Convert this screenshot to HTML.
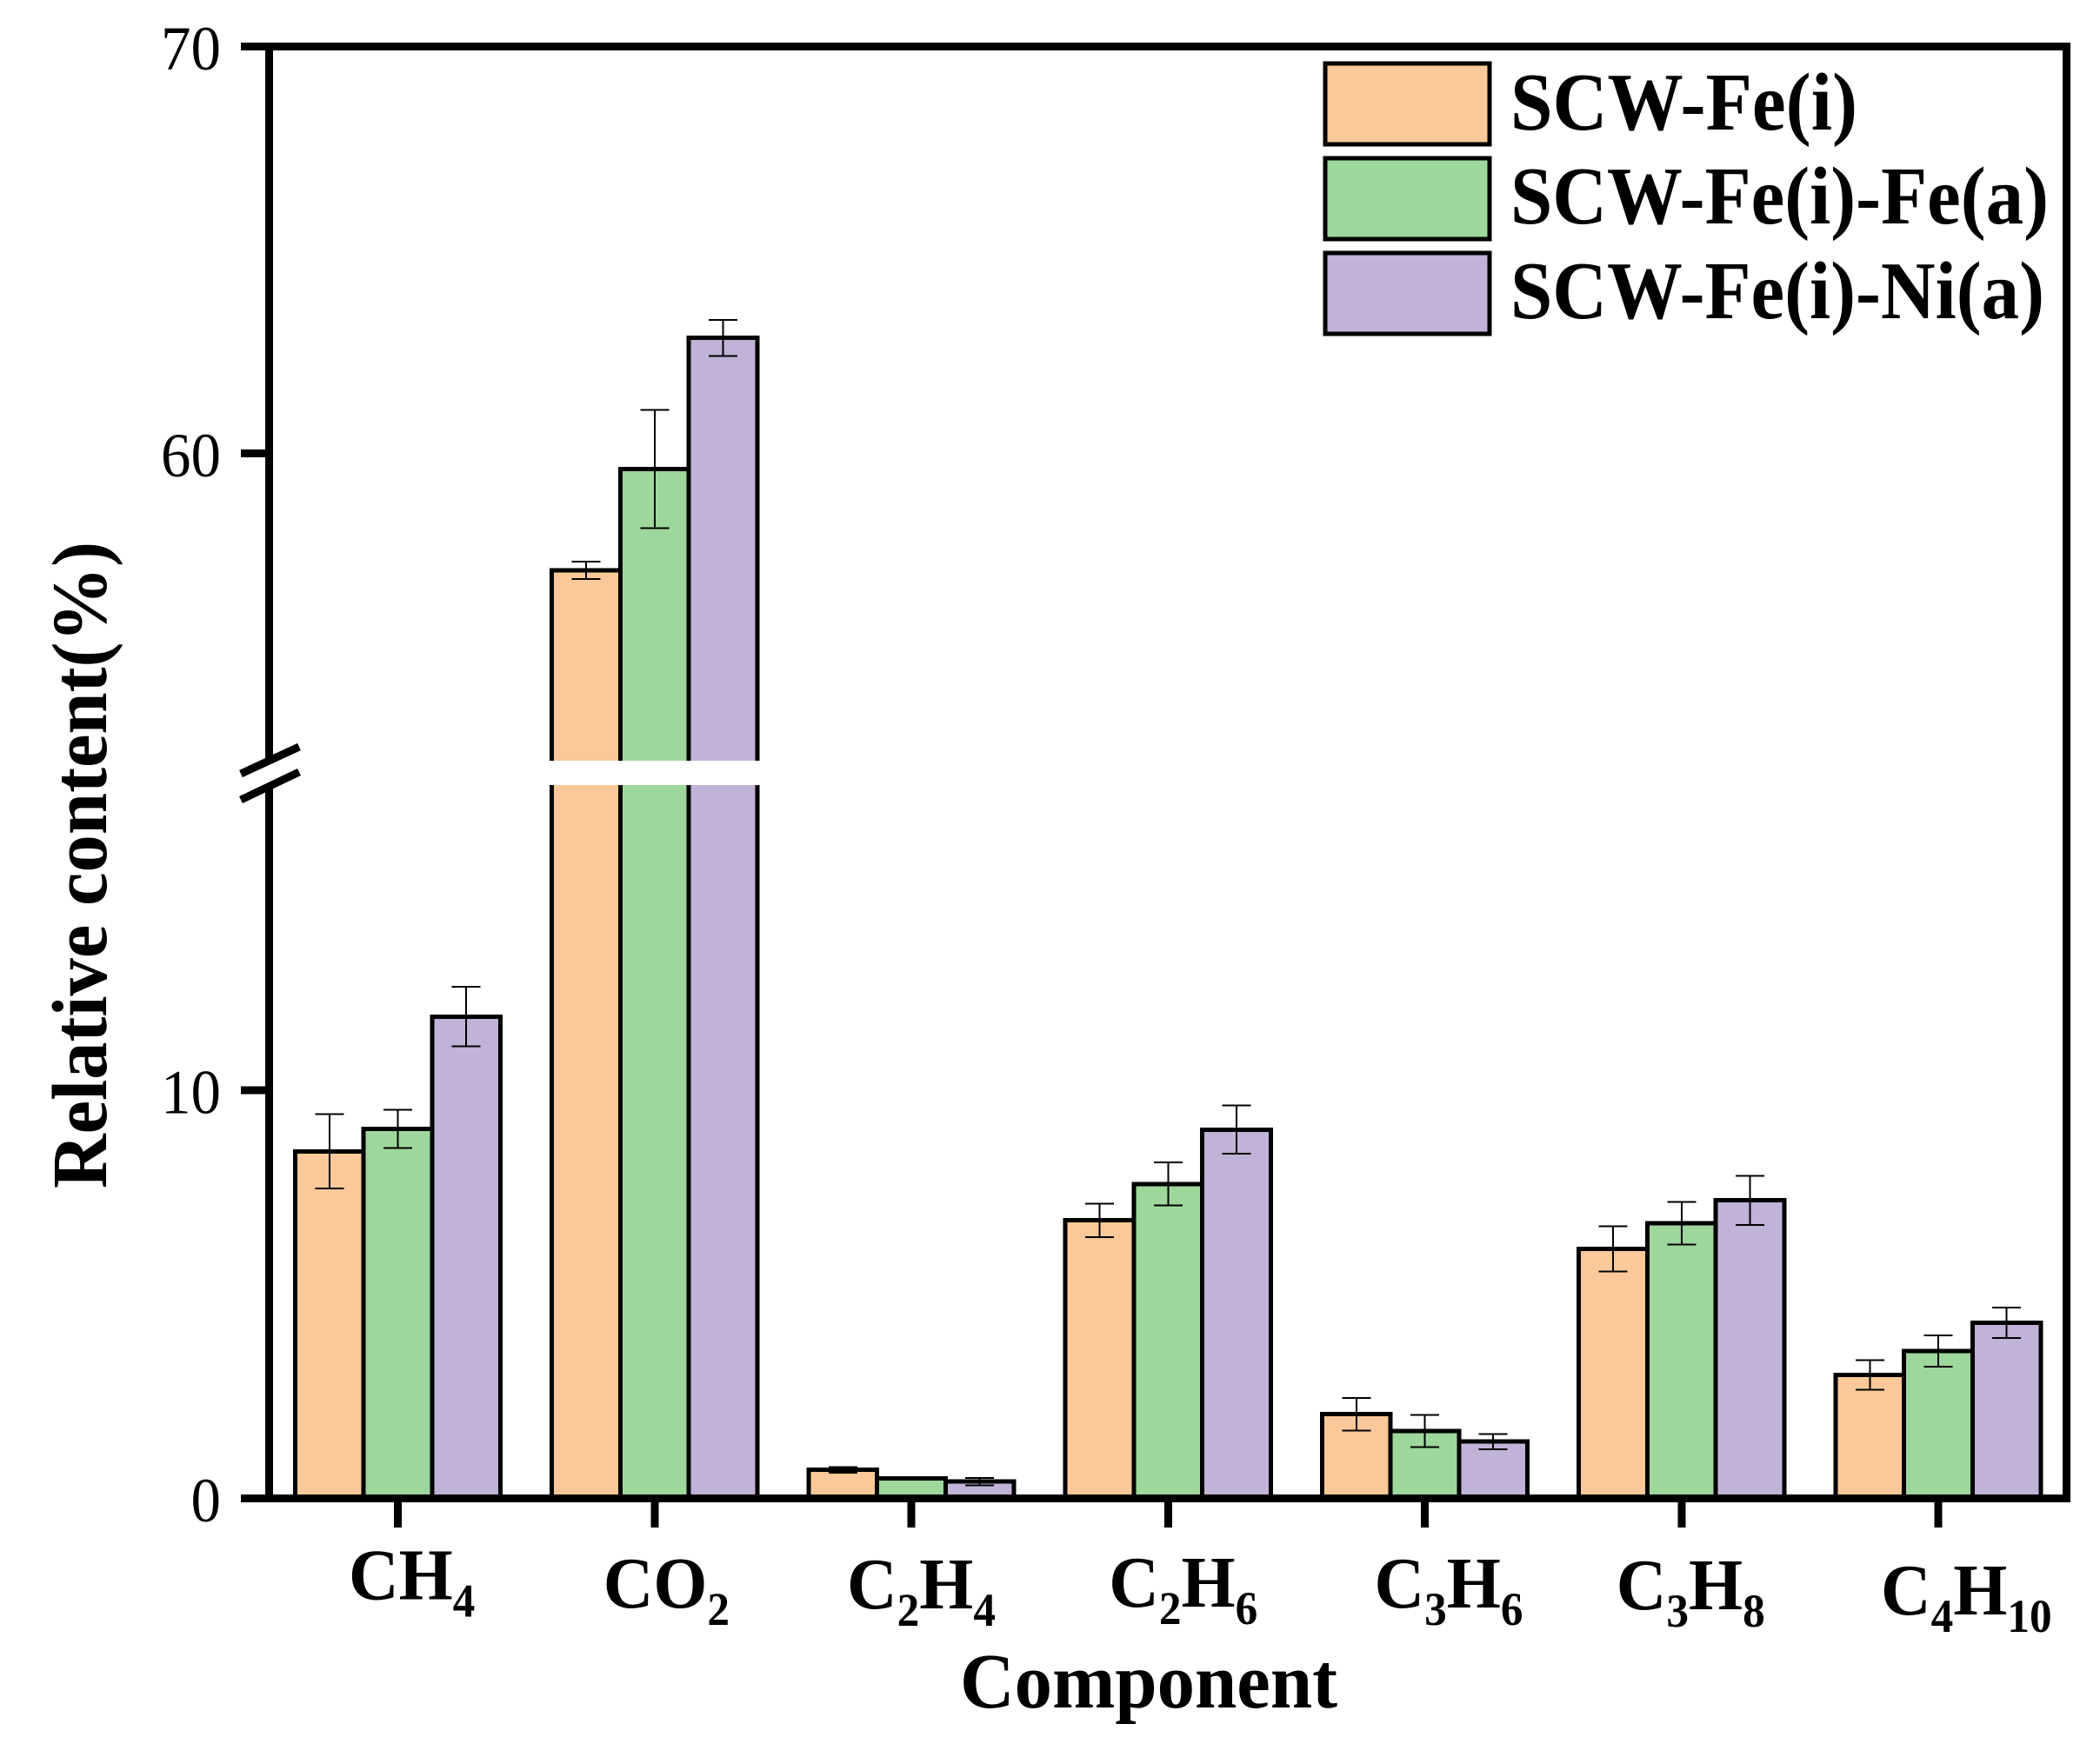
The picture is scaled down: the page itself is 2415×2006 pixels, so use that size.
<!DOCTYPE html>
<html lang="en">
<head>
<meta charset="utf-8">
<title>Relative content by gas component</title>
<style>
html,body{margin:0;padding:0;background:#fff;width:2415px;height:2006px;overflow:hidden}
svg{display:block}
text{fill:#000;font-family:"Liberation Serif","Times New Roman",serif}
.b{font-weight:bold}
</style>
</head>
<body>
<svg id="chart" xmlns="http://www.w3.org/2000/svg" width="2415" height="2006" viewBox="0 0 2415 2006">
  <rect x="0" y="0" width="2415" height="2006" fill="#fff"/>
  <g id="bars" shape-rendering="crispEdges"></g>
  <g id="errors" shape-rendering="crispEdges"></g>
  <g id="gaps" shape-rendering="crispEdges"></g>
  <g id="axes"></g>
  <g id="ylabels"></g>
  <g id="xlabels"></g>
  <text class="b" x="1104" y="1964" font-size="90" textLength="434" lengthAdjust="spacingAndGlyphs">Component</text>
  <text class="b" transform="translate(122 1367) rotate(-90)" font-size="90" textLength="744" lengthAdjust="spacingAndGlyphs">Relative content(%)</text>
  <g>
    <rect shape-rendering="crispEdges" x="1524" y="73" width="189" height="93" fill="#FBC999" stroke="#000" stroke-width="5"/>
    <text class="b" x="1737" y="149" font-size="94" textLength="399" lengthAdjust="spacingAndGlyphs">SCW-Fe(i)</text>
    <rect shape-rendering="crispEdges" x="1524" y="182" width="189" height="93" fill="#9ED79C" stroke="#000" stroke-width="5"/>
    <text class="b" x="1737" y="257" font-size="94" textLength="619" lengthAdjust="spacingAndGlyphs">SCW-Fe(i)-Fe(a)</text>
    <rect shape-rendering="crispEdges" x="1524" y="291" width="189" height="93" fill="#C1B3D7" stroke="#000" stroke-width="5"/>
    <text class="b" x="1737" y="366" font-size="94" textLength="614" lengthAdjust="spacingAndGlyphs">SCW-Fe(i)-Ni(a)</text>
  </g>
</svg>
<script>
const categories = ["CH4", "CO2", "C2H4", "C2H6", "C3H6", "C3H8", "C4H10"];
const seriesNames = ["SCW-Fe(i)", "SCW-Fe(i)-Fe(a)", "SCW-Fe(i)-Ni(a)"];
const valuesFeI = [8.5, 57.13, 0.70, 6.81, 2.06, 6.11, 3.02];
const valuesFeIFeA = [9.05, 59.62, 0.49, 7.70, 1.65, 6.74, 3.61];
const valuesFeINiA = [11.8, 62.84, 0.41, 9.03, 1.39, 7.30, 4.30];
const errorsFeI = [0.91, 0.21, 0.07, 0.41, 0.40, 0.55, 0.36];
const errorsFeIFeA = [0.47, 1.45, 0.01, 0.53, 0.39, 0.52, 0.38];
const errorsFeINiA = [0.73, 0.44, 0.09, 0.59, 0.19, 0.60, 0.37];
const yTickValues = [0, 10, 60, 70];
const yTickLabels = ["0", "10", "60", "70"];

const NS = "http://www.w3.org/2000/svg";
const breakLow = 17.5, breakHigh = 52.5;
const allValues = [valuesFeI, valuesFeIFeA, valuesFeINiA];
const allErrors = [errorsFeI, errorsFeIFeA, errorsFeINiA];
const fills = ["#FBC999", "#9ED79C", "#C1B3D7"];

function yScale(v) {
  return v <= breakLow ? 1723.5 - v * 46.97 : 521.7 - (v - 60) * 46.82;
}
function xScale(i) {
  return 457.5 + i * 295.25;
}
const barWidth = 78.7;

function make(tag, attrs, parent) {
  const el = document.createElementNS(NS, tag);
  for (const k in attrs) el.setAttribute(k, attrs[k]);
  parent.appendChild(el);
  return el;
}

const barsG = document.getElementById("bars");
const errG = document.getElementById("errors");
const gapG = document.getElementById("gaps");
const axesG = document.getElementById("axes");
const ylabG = document.getElementById("ylabels");
const xlabG = document.getElementById("xlabels");

categories.forEach(function (cat, i) {
  allValues.forEach(function (vals, s) {
    const cx = xScale(i) + (s - 1) * barWidth;
    const top = yScale(vals[i]);
    const base = yScale(0);
    const bar = make("rect", {x: cx - barWidth / 2, y: top, width: barWidth, height: base - top, fill: fills[s], stroke: "#000", "stroke-width": 5}, barsG);
    
    

    const e = allErrors[s][i];
    const path = "M" + (cx - 16.5) + " " + yScale(vals[i] + e) + "H" + (cx + 16.5) +
      "M" + cx + " " + yScale(vals[i] + e) + "V" + yScale(vals[i] - e) +
      "M" + (cx - 16.5) + " " + yScale(vals[i] - e) + "H" + (cx + 16.5);
    const err = make("path", {d: path, fill: "none", stroke: "#000", "stroke-width": 2}, errG);
    
    
  });
  const maxVal = Math.max(valuesFeI[i], valuesFeIFeA[i], valuesFeINiA[i]);
  if (maxVal > breakLow) {
    const gap = make("rect", {x: xScale(i) - 1.5 * barWidth - 4, y: 875, width: 3 * barWidth + 8, height: 28, fill: "#fff"}, gapG);
    
    
  }
});

/* axes frame */
function axisLine(name, x1, y1, x2, y2, w) {
  const l = make("line", {x1: x1, y1: y1, x2: x2, y2: y2, stroke: "#000", "stroke-width": w}, axesG);
  if (x1 === x2 || y1 === y2) l.setAttribute("shape-rendering", "crispEdges");
  
  
  return l;
}
axisLine("left-axis-upper", 309.5, 53.5, 309.5, 872, 9);
axisLine("left-axis-lower", 309.5, 903, 309.5, yScale(0), 9);
axisLine("right-axis", 2376.5, 49, 2376.5, 1728, 9);
axisLine("top-axis", 277, 53.5, 2381, 53.5, 9);
axisLine("bottom-axis", 277, 1723.5, 2381, 1723.5, 9);
axisLine("axis-break-slash-upper", 277, 890, 344, 859, 9);
axisLine("axis-break-slash-lower", 277, 920, 344, 888, 9);

yTickValues.forEach(function (v, i) {
  const y = yScale(v);
  if (v !== 0 && v !== 70) axisLine("y-tick-" + yTickLabels[i], 277, y, 309, y, 9);
  const t = make("text", {x: 254, y: y + 26.5, "text-anchor": "end", "font-size": 72, textLength: yTickLabels[i].length * 34.5, lengthAdjust: "spacingAndGlyphs"}, ylabG);
  t.textContent = yTickLabels[i];
  
  
});

/* category labels: hand-placed offsets from each tick, as in the original figure */
const labelLayoutDx = [-56.5, -59, -74, -68, -58, -75, -66];
const labelLayoutY = [1839.5, 1849, 1850, 1848, 1849, 1851, 1857];

categories.forEach(function (cat, i) {
  const tx = xScale(i);
  axisLine("x-tick-" + cat, tx, 1723.5, tx, 1757, 9);
  const t = make("text", {class: "b", transform: "translate(" + (tx + labelLayoutDx[i]) + " " + labelLayoutY[i] + ") scale(0.95 1)", "font-size": 84}, xlabG);
  
  
  const parts = cat.match(/[A-Z]+|\d+/g);
  let lowered = false;
  parts.forEach(function (p) {
    const isSub = /\d/.test(p);
    const attrs = {"font-size": isSub ? 54 : 84};
    if (isSub && !lowered) { attrs.dy = 20; lowered = true; }
    else if (!isSub && lowered) { attrs.dy = -20; lowered = false; }
    const span = make("tspan", attrs, t);
    span.textContent = p;
  });
});
</script>
</body>
</html>
